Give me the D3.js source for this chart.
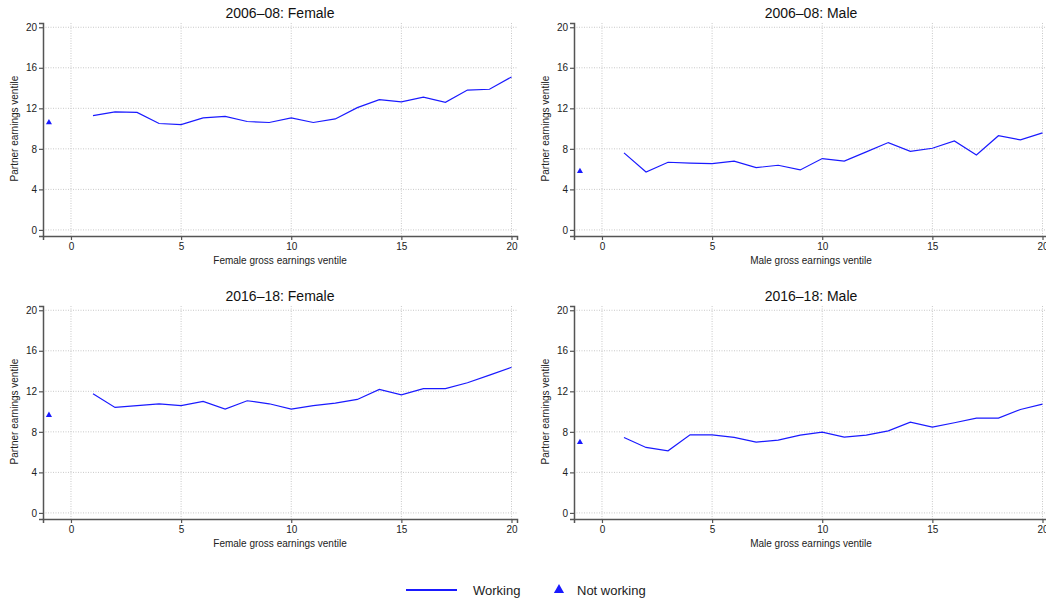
<!DOCTYPE html>
<html>
<head>
<meta charset="utf-8">
<script src="https://cdn.jsdelivr.net/npm/d3@7"></script>
<style>
  body { margin: 0; background: #fff; }
  svg { font-family: "Liberation Sans", Arial, sans-serif; }
</style>
</head>
<body>
<svg id="chart" width="1046" height="604"></svg>
<script>
// ventiles 1..20 (working), plus -1 = not working
var ventiles = d3.range(1, 21);
var xTicks = [0, 5, 10, 15, 20];
var yTicks = [0, 4, 8, 12, 16, 20];

var titles = ["2006\u201308: Female", "2006\u201308: Male", "2016\u201318: Female", "2016\u201318: Male"];
var xLabels = ["Female gross earnings ventile", "Male gross earnings ventile",
               "Female gross earnings ventile", "Male gross earnings ventile"];

var f0608 = [11.28, 11.64, 11.6, 10.5, 10.4, 11.05, 11.2, 10.7, 10.6, 11.05,
             10.6, 10.95, 12.07, 12.86, 12.63, 13.1, 12.6, 13.8, 13.88, 15.1];
var m0608 = [7.6, 5.72, 6.68, 6.6, 6.55, 6.78, 6.15, 6.38, 5.92, 7.04,
             6.8, 7.7, 8.62, 7.76, 8.06, 8.78, 7.4, 9.3, 8.88, 9.57];
var f1618 = [11.76, 10.41, 10.58, 10.77, 10.58, 11.0, 10.25, 11.07, 10.77, 10.25,
             10.58, 10.84, 11.2, 12.19, 11.66, 12.26, 12.26, 12.85, 13.6, 14.37];
var m1618 = [7.45, 6.46, 6.13, 7.71, 7.71, 7.45, 6.98, 7.18, 7.68, 7.97,
             7.48, 7.68, 8.1, 8.96, 8.47, 8.9, 9.36, 9.36, 10.21, 10.74];
var notWorking = [10.6, 5.79, 9.65, 6.98];

var series = [f0608, m0608, f1618, m1618];
var origins = [[43, 23], [574, 23], [43, 306], [574, 306]];

var blue = "#1a1aff";
var w = 474, h = 213;
var svg = d3.select("#chart");

var x = d3.scaleLinear().domain([-1.27, 20.25]).range([0, w]);
var y = d3.scaleLinear().domain([-0.6, 20.42]).range([h, 0]);

series.forEach(function(vals, i) {
    var g = svg.append("g")
        .attr("transform", "translate(" + origins[i][0] + "," + origins[i][1] + ")");

    // grid
    g.selectAll(".hg").data(yTicks).enter().append("line")
        .attr("x1", 0).attr("x2", w)
        .attr("y1", d => y(d)).attr("y2", d => y(d))
        .attr("stroke", "#c8c8c8").attr("stroke-width", 1)
        .attr("stroke-dasharray", "1,1.5");
    g.selectAll(".vg").data(xTicks).enter().append("line")
        .attr("y1", 0).attr("y2", h)
        .attr("x1", d => x(d)).attr("x2", d => x(d))
        .attr("stroke", "#c8c8c8").attr("stroke-width", 1)
        .attr("stroke-dasharray", "1,1.5");

    // axes
    var ya = g.append("g")
        .call(d3.axisLeft(y).tickValues(yTicks).tickSize(4).tickPadding(2));
    var xa = g.append("g").attr("transform", "translate(0," + h + ")")
        .call(d3.axisBottom(x).tickValues(xTicks).tickSize(4).tickPadding(3));
    [ya, xa].forEach(function(a) {
        a.select(".domain").attr("stroke", "#555").attr("stroke-width", 1.5);
        a.selectAll(".tick line").attr("stroke", "#555").attr("stroke-width", 1.2);
        a.selectAll(".tick text").attr("fill", "#222")
            .style("font-size", "10px").style("font-family", "Liberation Sans, Arial, sans-serif");
    });

    // working line
    var line = d3.line().x((d, j) => x(ventiles[j])).y(d => y(d));
    g.append("path").datum(vals)
        .attr("d", line)
        .attr("fill", "none").attr("stroke", blue).attr("stroke-width", 1.2);

    // not working marker
    g.append("path")
        .attr("d", d3.symbol(d3.symbolTriangle, 16)())
        .attr("transform", "translate(" + x(-1) + "," + y(notWorking[i]) + ")")
        .attr("fill", blue);

    // titles
    g.append("text").attr("x", w / 2).attr("y", -5)
        .attr("text-anchor", "middle").style("font-size", "14px").attr("fill", "#111")
        .text(titles[i]);
    g.append("text").attr("x", w / 2).attr("y", h + 28)
        .attr("text-anchor", "middle").style("font-size", "10px").attr("fill", "#222")
        .text(xLabels[i]);
    g.append("text")
        .attr("transform", "translate(-25," + (y(10)) + ") rotate(-90)")
        .attr("text-anchor", "middle").style("font-size", "10px").attr("fill", "#222")
        .text("Partner earnings ventile");
});

// legend
var leg = svg.append("g");
leg.append("line").attr("x1", 406).attr("x2", 457).attr("y1", 590).attr("y2", 590)
    .attr("stroke", blue).attr("stroke-width", 2);
leg.append("text").attr("x", 473).attr("y", 595).style("font-size", "13px").attr("fill", "#222")
    .text("Working");
leg.append("path").attr("d", d3.symbol(d3.symbolTriangle, 45)())
    .attr("transform", "translate(559,590)").attr("fill", blue);
leg.append("text").attr("x", 577).attr("y", 595).style("font-size", "13px").attr("fill", "#222")
    .text("Not working");
</script>
</body>
</html>
